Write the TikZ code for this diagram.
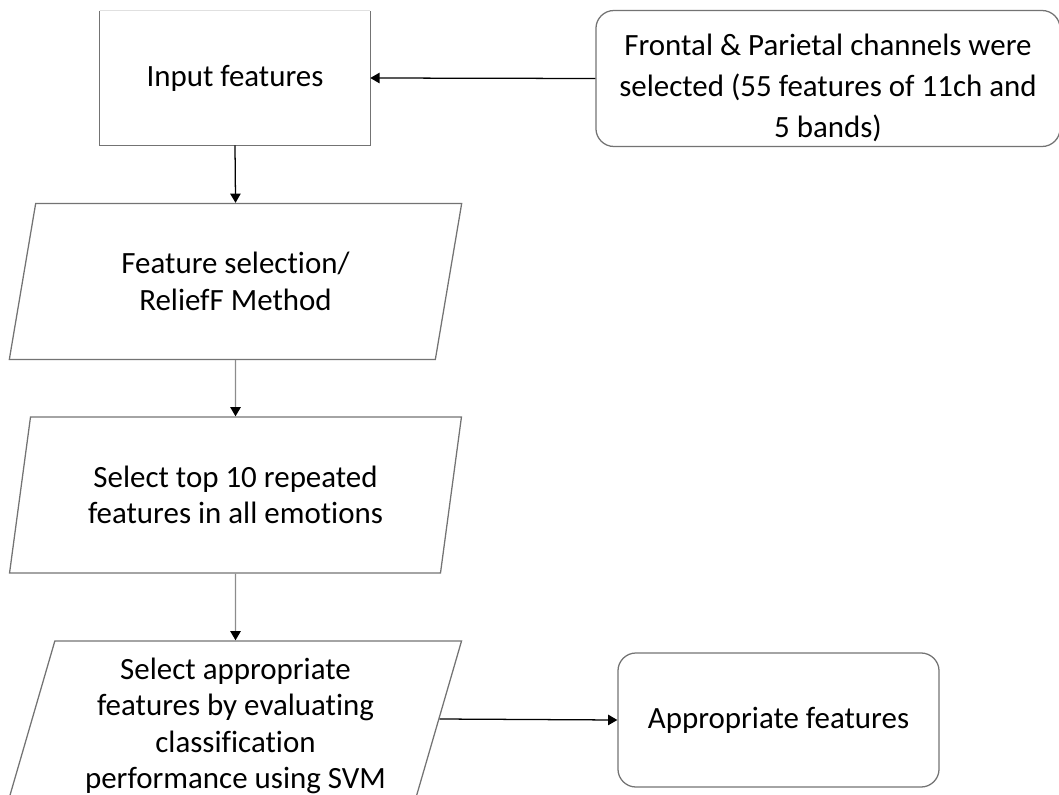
\documentclass[tikz,border=0pt]{standalone}
\usepackage{fontspec}
\setmainfont[Ligatures=NoCommon]{Carlito}
\usetikzlibrary{arrows.meta,shapes.geometric}

\begin{document}
\begin{tikzpicture}[x=0.025cm,y=-0.025cm,
        font=\fontsize{22}{29}\selectfont,
        >={Triangle[length=2.3mm,width=2.6mm]},
        outline/.style={draw=black!55,line width=0.9pt},
        procbox/.style={shape=rectangle,minimum width=6.75cm,minimum height=3.35cm},
        roundbox/.style={outline,shape=rectangle,rounded corners=0.45cm,align=center},
        databox/.style={outline,shape=trapezium,trapezium left angle=76,trapezium right angle=104,
            trapezium stretches=true,minimum width=11.325cm,minimum height=3.9cm,inner sep=1pt,
            align=center,font=\fontsize{22}{26}\selectfont},
        link/.style={->,line width=0.9pt},
        greylink/.style={draw=black!45,line width=0.9pt,-{Triangle[length=2.3mm,width=2.6mm,color=black]}}]
        \useasboundingbox (0,0) rectangle (1059,795);

        \node (input) at (235,78) [procbox] {Input features};
        \node (channels) at (828,78.5) [roundbox,minimum width=11.6cm,minimum height=3.325cm] {\rule{0pt}{29pt}Frontal \& Parietal channels were\\selected (55 features of 11ch and\\5 bands)};
        \node (relief) at (235.5,281.5) [databox] {Feature selection/\\ReliefF Method};
        \node (top10) at (235.5,495) [databox] {Select top 10 repeated\\features in all emotions};
        \node (svm) at (235.5,719) [databox] {\rule{0pt}{25pt}Select appropriate\\features by evaluating\\classification\\performance using SVM};
        \node (result) at (778.5,720) [roundbox,minimum width=8.025cm,minimum height=3.35cm] {Appropriate features};

        % open-topped input box
        \draw[outline] (input.north west) -- (input.south west) -- (input.south east) -- (input.north east);
        \draw[black!12,line width=0.9pt] (input.north west) -- (input.north east);

        \draw[link] (channels.west) -- (input.east);
        \draw[link] (input.south) -- (relief.north);
        \draw[greylink] (relief.south) -- (top10.north);
        \draw[greylink] (top10.south) -- (svm.north);
        \draw[link] (svm.east) -- (result.west);
    \end{tikzpicture}
\end{document}
